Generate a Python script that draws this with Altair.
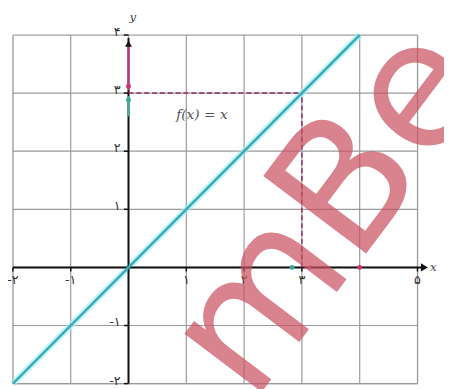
import altair as alt
import pandas as pd

# ---- data ----
line_x = [-2, 4]
line_y = [-2, 4]
grid_x = [-2, -1, 0, 1, 2, 3, 4, 5]
grid_y = [-2, -1, 0, 1, 2, 3, 4]
x_tick_vals = [-2, -1, 1, 2, 3, 5]
x_tick_labels = ["-۲", "-۱", "۱", "۲", "۳", "۵"]
y_tick_vals = [4, 3, 2, 1, -1, -2]
y_tick_labels = ["۴", "۳", "۲", "۱", "-۱", "-۲"]
point_a = 3  # f(3) = 3

XD = [-2, 5]
YD = [-2, 4]
xs = alt.Scale(domain=XD, nice=False, zero=False)
ys = alt.Scale(domain=YD, nice=False, zero=False)

def X(f="x"):
    return alt.X(f"{f}:Q", scale=xs, axis=None)

def Y(f="y"):
    return alt.Y(f"{f}:Q", scale=ys, axis=None)

# grid
vgrid = pd.DataFrame({"x": grid_x, "y": [YD[0]] * len(grid_x), "y2": [YD[1]] * len(grid_x)})
hgrid = pd.DataFrame({"y": grid_y, "x": [XD[0]] * len(grid_y), "x2": [XD[1]] * len(grid_y)})
grid_v = alt.Chart(vgrid).mark_rule(color="#9a9a9a", strokeWidth=1.2).encode(x=X(), y=Y(), y2="y2:Q")
grid_h = alt.Chart(hgrid).mark_rule(color="#9a9a9a", strokeWidth=1.2).encode(y=Y(), x=X(), x2="x2:Q")

# axes
xaxis = alt.Chart(pd.DataFrame({"x": [XD[0]], "x2": [5.1], "y": [0]})).mark_rule(
    color="#111", strokeWidth=2).encode(x=X(), x2="x2:Q", y=Y())
yaxis = alt.Chart(pd.DataFrame({"x": [0], "y": [YD[0]], "y2": [3.95]})).mark_rule(
    color="#111", strokeWidth=2).encode(x=X(), y=Y(), y2="y2:Q")
yaxis_pink = alt.Chart(pd.DataFrame({"x": [0], "y": [3.05], "y2": [3.8]})).mark_rule(
    color="#d0308a", strokeWidth=2).encode(x=X(), y=Y(), y2="y2:Q")
yaxis_teal = alt.Chart(pd.DataFrame({"x": [0], "y": [2.6], "y2": [2.95]})).mark_rule(
    color="#3ab5a5", strokeWidth=2).encode(x=X(), y=Y(), y2="y2:Q")

arrow_x = alt.Chart(pd.DataFrame({"x": [5.12], "y": [0]})).mark_point(
    shape="triangle-right", filled=True, color="#111", size=70, opacity=1).encode(x=X(), y=Y())
arrow_y = alt.Chart(pd.DataFrame({"x": [0], "y": [3.85]})).mark_point(
    shape="triangle-up", filled=True, color="#111", size=50, opacity=1).encode(x=X(), y=Y())

# ticks
xt = pd.DataFrame({"x": x_tick_vals, "y": [0] * len(x_tick_vals), "y2": [-0.07] * len(x_tick_vals), "lab": x_tick_labels})
yt = pd.DataFrame({"y": y_tick_vals, "x": [0] * len(y_tick_vals), "x2": [-0.08] * len(y_tick_vals), "lab": y_tick_labels})
xtick_marks = alt.Chart(xt).mark_rule(color="#111", strokeWidth=1.5).encode(x=X(), y=Y(), y2="y2:Q")
ytick_marks = alt.Chart(yt).mark_rule(color="#111", strokeWidth=1.5).encode(y=Y(), x=X(), x2="x2:Q")
xtick_text = alt.Chart(xt).mark_text(font="DejaVu Sans", fontSize=13, color="#333", dy=13).encode(
    x=X(), y=Y(), text="lab:N")
ytick_text = alt.Chart(yt).mark_text(font="DejaVu Sans", fontSize=13, color="#333", align="right",
                                     dx=-8, dy=-3).encode(x=X(), y=Y(), text="lab:N")

# axis names
ax_names = pd.DataFrame({"x": [0, 5.2], "y": [4.3, 0], "t": ["y", "x"]})
names = alt.Chart(ax_names).mark_text(font="DejaVu Serif", fontStyle="italic", fontSize=12,
                                       color="#444", align="left", dx=1).encode(x=X(), y=Y(), text="t:N")

# function line
fl = pd.DataFrame({"x": line_x, "y": line_y})
glow = alt.Chart(fl).mark_line(color="#a8eef5", strokeWidth=7, opacity=0.6).encode(x=X(), y=Y())
fline = alt.Chart(fl).mark_line(color="#39aebb", strokeWidth=2.6).encode(x=X(), y=Y())

# dashed guides
dv = alt.Chart(pd.DataFrame({"x": [point_a], "y": [0], "y2": [point_a]})).mark_rule(
    color="#9b2a66", strokeWidth=1.5, strokeDash=[5, 3]).encode(x=X(), y=Y(), y2="y2:Q")
dh = alt.Chart(pd.DataFrame({"y": [point_a], "x": [0], "x2": [point_a]})).mark_rule(
    color="#9b2a66", strokeWidth=1.5, strokeDash=[5, 3]).encode(y=Y(), x=X(), x2="x2:Q")

# small markers
pink_pts = alt.Chart(pd.DataFrame({"x": [0, 4], "y": [3.12, 0]})).mark_point(
    filled=True, color="#d0306a", size=25, opacity=1).encode(x=X(), y=Y())
teal_pts = alt.Chart(pd.DataFrame({"x": [0, 2.83], "y": [2.88, 0]})).mark_point(
    filled=True, color="#3aa59a", size=25, opacity=1).encode(x=X(), y=Y())
pink_arrow = alt.Chart(pd.DataFrame({"x": [3.12], "y": [0]})).mark_point(
    shape="triangle-left", filled=True, color="#d0508a", size=30, opacity=1).encode(x=X(), y=Y())

# function label
flabel = alt.Chart(pd.DataFrame({"x": [1.27], "y": [2.63], "t": ["f(x) = x"]})).mark_text(
    font="DejaVu Serif", fontStyle="italic", fontSize=14, color="#555").encode(x=X(), y=Y(), text="t:N")

# watermark
wm = alt.Chart(pd.DataFrame({"x": [3.5], "y": [0.95], "t": ["mBe"]})).mark_text(
    font="DejaVu Sans", fontSize=180, color="#c9505f", opacity=0.7, angle=307,
    align="center", baseline="middle").encode(x=X(), y=Y(), text="t:N")

chart = alt.layer(
    grid_v, grid_h, glow, xaxis, yaxis, yaxis_pink, yaxis_teal, xtick_marks, ytick_marks,
    dv, dh, fline, arrow_x, arrow_y, pink_pts, teal_pts, pink_arrow,
    xtick_text, ytick_text, names, flabel, wm,
).properties(
    width=412, height=355,
    autosize=alt.AutoSizeParams(type="none"),
    padding={"left": 5, "top": 24, "right": 27, "bottom": 2},
).configure_view(stroke=None).configure(background="white")

chart.save("out.html", embed_options={"renderer": "svg", "actions": False})
